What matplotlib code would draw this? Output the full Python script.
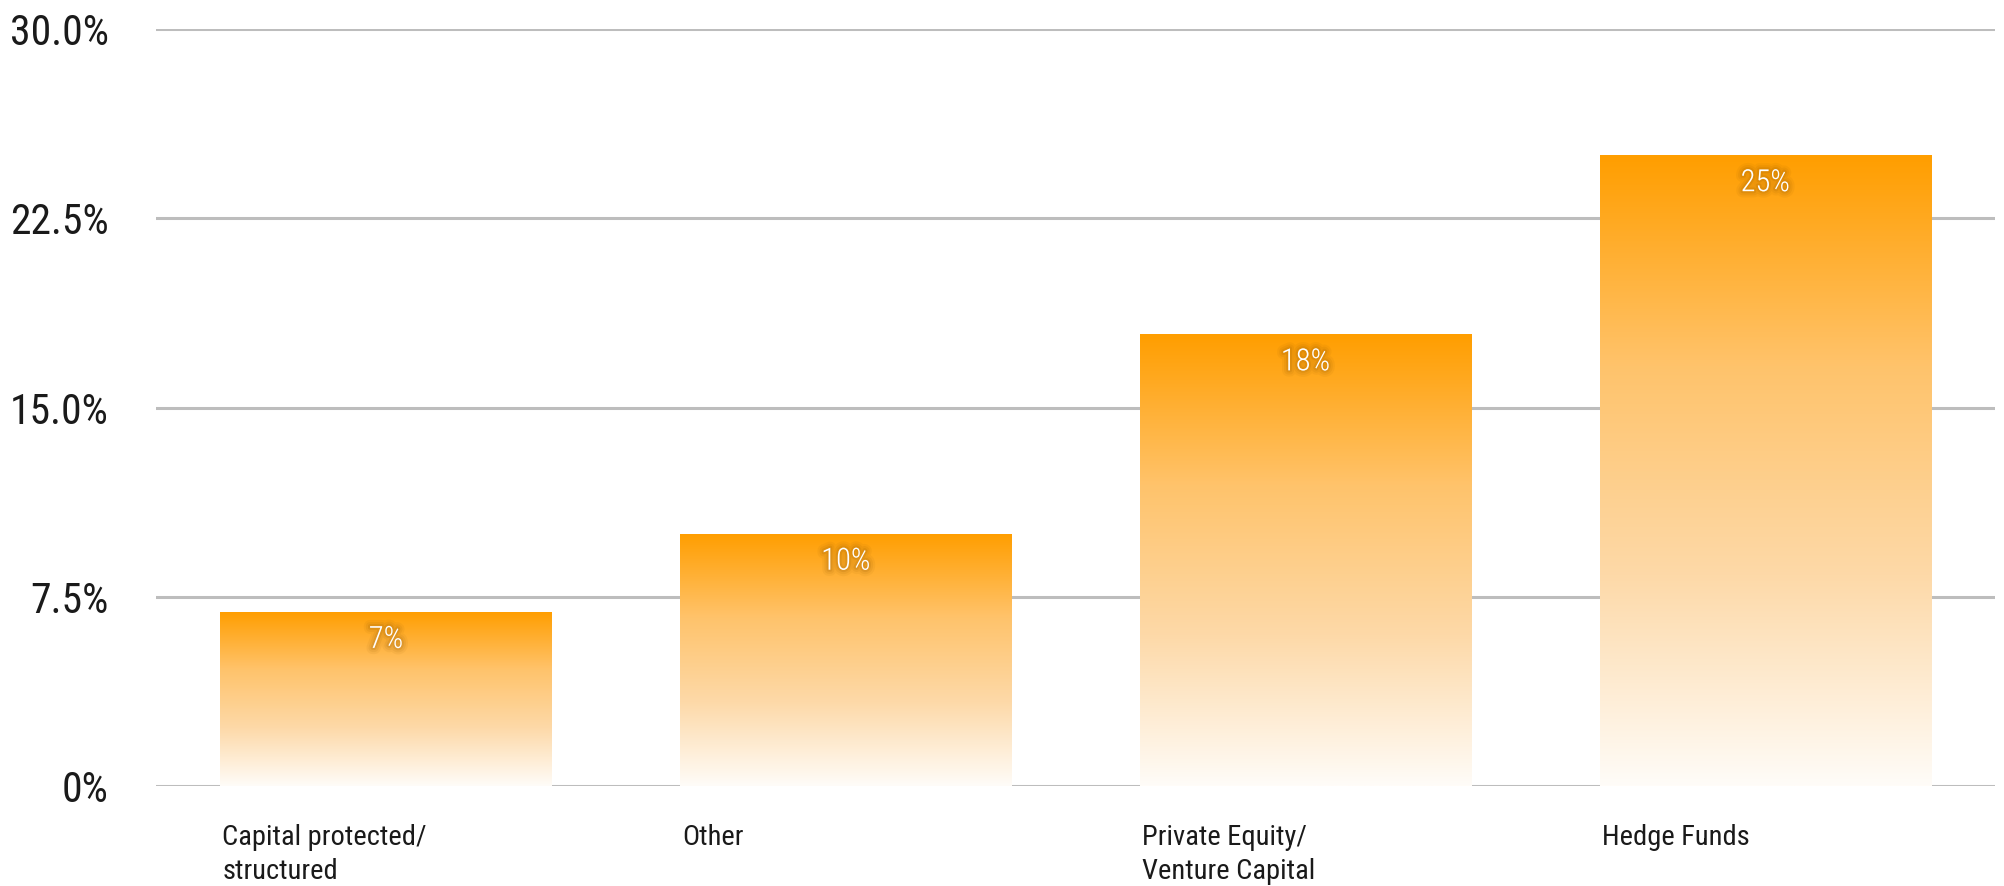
import numpy as np
import matplotlib
matplotlib.use("Agg")
import matplotlib.pyplot as plt
from matplotlib.colors import LinearSegmentedColormap
import matplotlib.patheffects as pe

categories = ["Capital protected/\nstructured", "Other", "Private Equity/\nVenture Capital", "Hedge Funds"]
shares = [6.9, 10.0, 17.9, 25.0]
yticks = [0, 7.5, 15, 22.5, 30]
ytick_labels = ["0%", "7.5%", "15.0%", "22.5%", "30.0%"]

plt.rcParams["font.family"] = ["Roboto Condensed", "DejaVu Sans"]

fig = plt.figure(figsize=(20.04, 8.86), dpi=100)
ax = fig.add_axes([156 / 2004, 100 / 886, 1839 / 2004, 757 / 886])

x = np.arange(len(categories))
width = 0.72
bars = ax.bar(x, shares, width, color="none", zorder=2)

# vertical orange-to-white fade inside each bar
fade = LinearSegmentedColormap.from_list("fade", ["#fffcf8", "#fdd9a8", "#ffc36b", "#ff9e00"])
grad = np.linspace(0, 1, 256).reshape(-1, 1)
for bar in bars:
    x0 = bar.get_x()
    h = bar.get_height()
    im = ax.imshow(grad, extent=[x0, x0 + bar.get_width(), 0, h], origin="lower",
                   aspect="auto", cmap=fade, zorder=2)
    im.set_clip_path(bar)

shadow = [pe.Stroke(linewidth=9, foreground="#7a4a00", alpha=0.06),
          pe.Stroke(linewidth=6, foreground="#7a4a00", alpha=0.08),
          pe.Stroke(linewidth=3, foreground="#7a4a00", alpha=0.12),
          pe.Normal()]
for xi, v in zip(x, shares):
    ax.annotate(f"{v:.0f}%", xy=(xi, v), xytext=(0, -36), textcoords="offset pixels",
                ha="center", va="baseline", color="white", fontsize=22,
                fontweight="light", path_effects=shadow, zorder=4)

for xi, lab in zip(x, categories):
    ax.annotate(lab, xy=(xi - width / 2, 0), xycoords=("data", "axes fraction"),
                xytext=(2, -38), textcoords="offset pixels", ha="left", va="top",
                fontsize=20.5, color="#1a1a1a", linespacing=1.33,
                annotation_clip=False)

ax.set_xlim(-0.5, len(categories) - 0.5)
ax.set_ylim(0, 30)
ax.set_yticks(yticks)
ax.set_yticklabels(ytick_labels)
ax.set_xticks([])
ax.tick_params(axis="y", length=0, pad=34, labelsize=30, labelcolor="#1a1a1a")
ax.grid(axis="y", color="#bdbdbd", linewidth=2.2, zorder=1)
ax.set_axisbelow(True)
for s in ax.spines.values():
    s.set_visible(False)

fig.savefig("out.png", dpi=100)
